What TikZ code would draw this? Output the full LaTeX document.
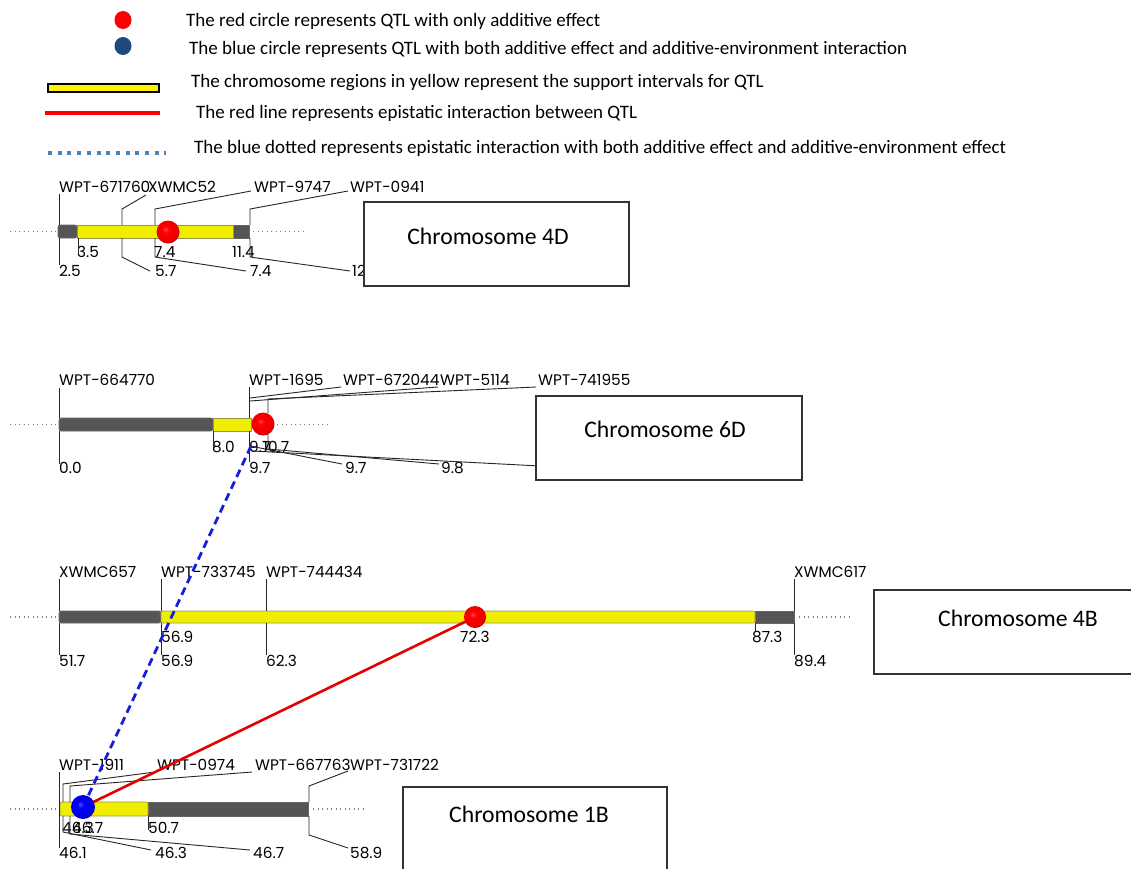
\documentclass[tikz,border=0pt]{standalone}
\usepackage{fontspec}
\setmainfont{Carlito}
\newfontfamily\mkfont{Poppins}
\usetikzlibrary{shapes.geometric}
\definecolor{chrgray}{RGB}{85,85,85}
\definecolor{chryel}{RGB}{240,238,0}
\definecolor{legblue}{RGB}{31,73,125}
\definecolor{dotblue}{RGB}{79,129,189}
\definecolor{dashblue}{RGB}{20,30,220}
\pgfdeclareradialshading{qtlredsh}{\pgfpoint{-6bp}{6bp}}{color(0bp)=(red!70!white); color(7bp)=(red); color(24bp)=(red!92!black); color(30bp)=(red!45!black); color(50bp)=(red!45!black)}
\pgfdeclareradialshading{qtlbluesh}{\pgfpoint{-6bp}{6bp}}{color(0bp)=(blue!70!white); color(7bp)=(blue); color(24bp)=(blue!92!black); color(30bp)=(blue!45!black); color(50bp)=(blue!45!black)}
\tikzset{
  mk/.style={font=\mkfont\fontsize{15.3}{15.3}\selectfont, inner sep=0pt, anchor=base west},
  leg/.style={font=\fontsize{19}{19}\selectfont, inner sep=0pt, anchor=base west},
  tick/.style={draw=black!85, line width=0.9pt},
  grayseg/.style={fill=chrgray, draw=black!60, line width=0.6pt},
  yelseg/.style={fill=chryel, draw=yellow!55!black, line width=0.6pt},
  flank/.style={draw=gray, line width=1.2pt, dash pattern=on 1.3pt off 3.2pt},
  chrbox/.style={draw=black!80, fill=white, line width=1.3pt, inner sep=0pt},
  boxtxt/.style={font=\fontsize{23.7}{23.7}\selectfont, inner sep=0pt},
  redqtl/.style={circle, minimum size=23pt, inner sep=0pt, shading=qtlredsh},
  blueqtl/.style={circle, minimum size=24pt, inner sep=0pt, shading=qtlbluesh},
  redlink/.style={draw=red!90!black, line width=2.6pt},
  bluelink/.style={draw=dashblue, line width=2.8pt, dash pattern=on 8pt off 5pt}
}
\begin{document}
\begin{tikzpicture}[x=1pt,y=-1pt]
\useasboundingbox[fill=white] (0,0) rectangle (1131,868);

% ---------------- legend ----------------
\node[ellipse, fill=red, minimum width=17pt, minimum height=18pt, inner sep=0pt] (legred) at (123,20) {};
\node[leg] (legt1) at (186,26) {The red circle represents QTL with only additive effect};
\node[ellipse, fill=legblue, minimum width=17pt, minimum height=18pt, inner sep=0pt] (legblu) at (123,46) {};
\node[leg] (legt2) at (189,54) {The blue circle represents QTL with both additive effect and additive-environment interaction};
\node[draw=black, line width=2pt, fill=yellow, minimum width=111pt, minimum height=8pt, inner sep=0pt] (legyel) at (103.5,88) {};
\node[leg] (legt3) at (191,87) {The chromosome regions in yellow represent the support intervals for QTL};
\coordinate (lra) at (45,113); \coordinate (lrb) at (160,113);
\draw[draw=red, line width=4pt] (lra) -- (lrb);
\node[leg] (legt4) at (196,118) {The red line represents epistatic interaction between QTL};
\coordinate (lba) at (48,153); \coordinate (lbb) at (166,153);
\draw[draw=dotblue, line width=4pt, dash pattern=on 4pt off 5.7pt] (lba) -- (lbb);
\node[leg] (legt5) at (194,153) {The blue dotted represents epistatic interaction with both additive effect and additive-environment effect};

% ---------------- chromosome 4D ----------------
\draw[flank] (10,231.5) -- (56,231.5);
\draw[flank] (253,231.5) -- (306,231.5);
\draw[grayseg, rounded corners=2pt] (58,225) rectangle (77,238);
\draw[grayseg] (233,225) rectangle (249,238);
\draw[yelseg] (77,225) rectangle (233,238);
\node[mk] (d4a) at (59,192) {WPT-671760};
\node[mk] (d4b) at (148,192) {XWMC52};
\node[mk] (d4c) at (254,192) {WPT-9747};
\node[mk] (d4d) at (350,192) {WPT-0941};
\draw[tick] (59,194) -- (59,225);
\draw[tick] (146,195) -- (122,209) -- (122,225);
\draw[tick] (251,191) -- (155,209) -- (155,225);
\draw[tick] (348,191) -- (250,209) -- (250,225);
\node[mk] (d4r1) at (77,257) {3.5};
\node[mk] (d4r2) at (154,257) {7.4};
\node[mk] (d4r3) at (232,257) {11.4};
\node[mk] (d4s1) at (59,276) {2.5};
\node[mk] (d4s2) at (155,276) {5.7};
\node[mk] (d4s3) at (250,276) {7.4};
\node[mk] (d4s4) at (352,276) {12};
\draw[tick] (59,238) -- (59,265);
\draw[tick] (78,238) -- (78,254);
\draw[tick] (122,238) -- (122,257) -- (150,271);
\draw[tick] (155,238) -- (155,257) -- (246,271);
\draw[tick] (250,238) -- (250,257) -- (350,271);
\node[redqtl] (q4D) at (168,232) {};
\node[chrbox, minimum width=265pt, minimum height=84pt] (box4D) at (496.5,244) {};
\node[boxtxt] (lab4D) at (488,236) {Chromosome 4D};

% ---------------- chromosome 6D ----------------
\draw[flank] (10,424.5) -- (56,424.5);
\draw[flank] (277,424.5) -- (330,424.5);
\draw[grayseg, rounded corners=2pt] (59,418) rectangle (213,431);
\draw[yelseg] (213,418) rectangle (251,431);
\node[mk] (d6a) at (59,385) {WPT-664770};
\node[mk] (d6b) at (249,385) {WPT-1695};
\node[mk] (d6c) at (343,385) {WPT-672044};
\node[mk] (d6d) at (440,385) {WPT-5114};
\node[mk] (d6e) at (538,385) {WPT-741955};
\draw[tick] (59,388) -- (59,418);
\draw[tick] (249,387) -- (249,418);
\draw[tick] (341,387) -- (250,398);
\draw[tick] (438,387) -- (250,401);
\draw[tick] (536,387) -- (268,399) -- (268,413);
\node[mk] (d6r1) at (212,452) {8.0};
\node[mk] (d6r2) at (249,452) {9.7};
\node[mk] (d6r3) at (263,452) {10.7};
\node[mk] (d6s1) at (59,473) {0.0};
\node[mk] (d6s2) at (249,473) {9.7};
\node[mk] (d6s3) at (345,473) {9.7};
\node[mk] (d6s4) at (441,473) {9.8};
\draw[tick] (59,431) -- (59,464);
\draw[tick] (213,431) -- (213,448);
\draw[tick] (249,431) -- (249,462);
\draw[tick] (250,446) -- (342,464);
\draw[tick] (268,431) -- (268,449) -- (439,464);
\draw[tick] (252,451) -- (540,466);

% ---------------- chromosome 4B ----------------
\draw[flank] (10,617) -- (56,617);
\draw[flank] (799,617) -- (851,617);
\draw[grayseg, rounded corners=2pt] (59,611) rectangle (161,623);
\draw[grayseg] (755,611) rectangle (794,623);
\draw[yelseg, rounded corners=2pt] (161,611) rectangle (755,623);
\node[mk] (b4a) at (59,577) {XWMC657};
\node[mk] (b4b) at (161,577) {WPT-733745};
\node[mk] (b4c) at (266,577) {WPT-744434};
\node[mk] (b4d) at (794,577) {XWMC617};
\draw[tick] (59,579) -- (59,611);
\draw[tick] (161,579) -- (161,611);
\draw[tick] (266,579) -- (266,611);
\draw[tick] (794,579) -- (794,611);
\node[mk] (b4r1) at (161,642) {56.9};
\node[mk] (b4r2) at (460,642) {72.3};
\node[mk] (b4r3) at (752,642) {87.3};
\node[mk] (b4s1) at (59,666) {51.7};
\node[mk] (b4s2) at (161,666) {56.9};
\node[mk] (b4s3) at (266,666) {62.3};
\node[mk] (b4s4) at (794,666) {89.4};
\draw[tick] (59,623) -- (59,655);
\draw[tick] (161,623) -- (161,655);
\draw[tick] (266,623) -- (266,655);
\draw[tick] (794,623) -- (794,655);
\draw[tick] (755,623) -- (755,632);
\node[chrbox, minimum width=266pt, minimum height=84pt] (box4B) at (1007,632) {};
\node[boxtxt] (lab4B) at (1018,618) {Chromosome 4B};

% ---------------- chromosome 1B ----------------
\draw[flank] (10,809) -- (56,809);
\draw[flank] (313,809) -- (364,809);
\draw[grayseg] (148,802) rectangle (308,816);
\draw[yelseg, rounded corners=2pt] (60,802) rectangle (148,816);
\node[mk] (b1a) at (59,770) {WPT-1911};
\node[mk] (b1b) at (157,770) {WPT-0974};
\node[mk] (b1c) at (255,770) {WPT-667763};
\node[mk] (b1d) at (350,770) {WPT-731722};
\draw[tick] (59,772) -- (59,848);
\draw[tick] (155,772) -- (63,784) -- (63,802);
\draw[tick] (252,772) -- (70,786) -- (70,802);
\draw[tick] (348,771) -- (309,786) -- (309,802);
\node[mk] (b1r1) at (62,833) {46.3};
\node[mk] (b1r2) at (72,833) {46.7};
\node[mk] (b1r3) at (148,833) {50.7};
\node[mk] (b1s1) at (59,858) {46.1};
\node[mk] (b1s2) at (155,858) {46.3};
\node[mk] (b1s3) at (253,858) {46.7};
\node[mk] (b1s4) at (350,858) {58.9};
\draw[tick] (63,816) -- (63,832) -- (151,850);
\draw[tick] (70,816) -- (70,834) -- (250,850);
\draw[tick] (309,816) -- (309,835) -- (348,848);
\draw[tick] (148,816) -- (148,830);
\node[chrbox, minimum width=264pt, minimum height=85pt] (box1B) at (535,829.5) {};
\node[boxtxt] (lab1B) at (529,814) {Chromosome 1B};

% ---------------- epistatic links ----------------
\coordinate (c1B) at (83,807);
\coordinate (c4B) at (475,617);
\coordinate (e6D) at (252,444);
\draw[redlink] (c1B) -- (c4B);
\draw[bluelink] (c1B) -- (e6D);
\node[redqtl] (q6D) at (263,424) {};
\node[redqtl, minimum size=22pt] (q4B) at (c4B) {};
\node[blueqtl] (q1B) at (c1B) {};

% 6D box drawn last so it covers the hidden label line end
\node[chrbox, minimum width=266pt, minimum height=84pt] (box6D) at (669,438) {};
\node[boxtxt] (lab6D) at (665,429) {Chromosome 6D};
\end{tikzpicture}
\end{document}
